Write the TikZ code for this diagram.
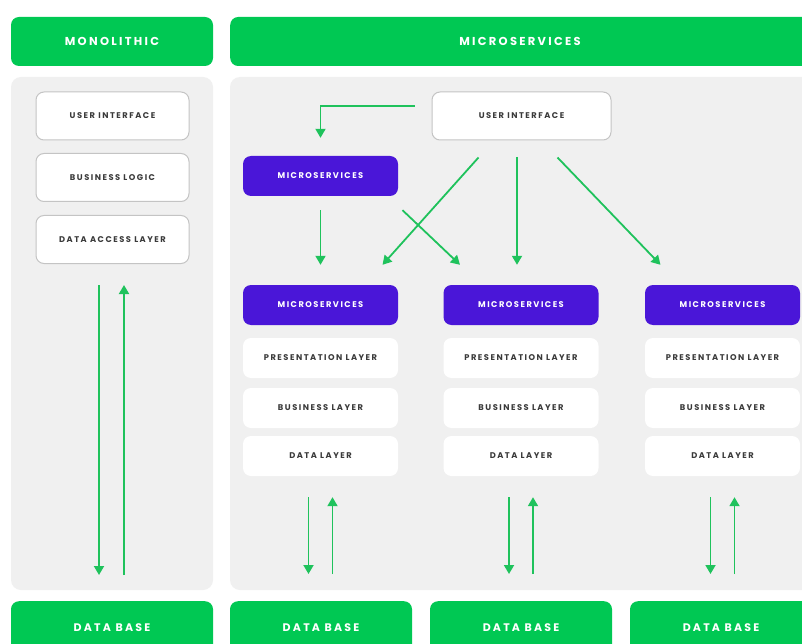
\documentclass[tikz,border=0pt]{standalone}
\usepackage{fontspec}
\setmainfont{Poppins}
\newfontfamily\labfont[LetterSpace=18]{Poppins}
\newfontfamily\hdfont[LetterSpace=20]{Poppins}
\usetikzlibrary{arrows.meta,calc}

\definecolor{hdgreen}{HTML}{00C853}
\definecolor{argreen}{HTML}{1FC25C}
\definecolor{msviolet}{HTML}{4A16D8}
\definecolor{panelgray}{HTML}{F0F0F0}
\definecolor{txtgray}{HTML}{3A3A3A}
\definecolor{bordgray}{HTML}{C4C4C4}

\tikzset{
  hdtext/.style={font=\hdfont\bfseries\fontsize{11.5}{13}\selectfont, text=white},
  header/.style={fill=hdgreen, rounded corners=8pt, inner sep=0pt, hdtext},
  panel/.style={fill=panelgray, rounded corners=10pt},
  labtext/.style={font=\labfont\bfseries\fontsize{8.3}{9}\selectfont},
  framebox/.style={draw=bordgray, line width=1pt, fill=white, rounded corners=8pt,
    minimum width=153pt, minimum height=48pt, text=txtgray, inner sep=0pt, labtext},
  svcbox/.style={fill=msviolet, rounded corners=8pt, text=white,
    minimum width=155pt, minimum height=40pt, inner sep=0pt, labtext},
  layerbox/.style={fill=white, rounded corners=8pt, text=txtgray,
    minimum width=155pt, minimum height=40pt, inner sep=0pt, labtext},
  arr/.style={draw=argreen, line width=1.8pt,
    -{Triangle[width=10pt,length=9pt]}},
}

\begin{document}
\begin{tikzpicture}[x=1pt,y=-1pt]
  \clip (0,0) rectangle (802,644);
  \fill[white] (0,0) rectangle (802,644);

  % column headers
  \node[header, minimum width=202pt, minimum height=49pt] (hmono) at (112,41.5) {MONOLITHIC};
  \node[header, minimum width=600pt, minimum height=49pt, anchor=west] (hmicro) at (230,41.5) {};
  \node[hdtext] at (520,41.5) {MICROSERVICES};

  % grey panels
  \fill[panel] (11,77) rectangle (213,590);
  \fill[panel] (230,77) rectangle (830,590);

  % monolithic stack
  \node[framebox] (mui)  at (112.5,116)   {USER INTERFACE};
  \node[framebox] (mbl)  at (112.5,177.5) {BUSINESS LOGIC};
  \node[framebox] (mdal) at (112.5,239.5) {DATA ACCESS LAYER};

  % microservices: entry points
  \node[framebox, minimum width=179pt] (ui) at (521.5,116) {USER INTERFACE};
  \node[svcbox] (ms0) at (320.5,176) {MICROSERVICES};

  % microservices: three service columns
  \foreach \n/\cx in {1/320.5, 2/521, 3/722.5} {
    \node[svcbox]   (ms\n) at (\cx,305) {MICROSERVICES};
    \node[layerbox] (pl\n) at (\cx,358) {PRESENTATION LAYER};
    \node[layerbox] (bl\n) at (\cx,408) {BUSINESS LAYER};
    \node[layerbox] (dl\n) at (\cx,456) {DATA LAYER};
  }

  % databases
  \node[header, minimum width=202pt, minimum height=60pt, anchor=north] (db0) at (112,601) {};
  \node[header, minimum width=182pt, minimum height=60pt, anchor=north] (db1) at (321,601) {};
  \node[header, minimum width=182pt, minimum height=60pt, anchor=north] (db2) at (521,601) {};
  \node[header, minimum width=182pt, minimum height=60pt, anchor=north] (db3) at (721,601) {};
  \foreach \d in {0,1,2,3}
    \node[hdtext, font=\hdfont\bfseries\fontsize{11}{13}\selectfont] at ($(db\d.north)+(0,27)$) {DATA BASE};

  % monolithic data flow
  \coordinate (m0a) at ($(mdal.south)+(-13.5,21)$);
  \coordinate (m0b) at ($(mdal.south)+(11.5,21)$);
  \draw[arr] (m0a) -- (m0a |- 0,575);
  \draw[arr] (m0b |- 0,575) -- (m0b);

  % request routing
  \coordinate (uiexit) at ($(ui.west)+(-17,-10)$);
  \draw[arr] (uiexit) -| ($(ms0.north)+(0,-18)$);
  \draw[arr] ($(ms0.south)+(0,14)$) -- ($(ms1.north)+(0,-20)$);
  \draw[arr] ($(ms0.south)+(82,14)$) -- ($(ms2.north)+(-61,-20)$);
  \draw[arr] ($(ui.south)+(-43,17)$) -- ($(ms1.north)+(62,-20)$);
  \coordinate (uimid) at ($(ms2.north)+(-4,-128)$);
  \draw[arr] (uimid) -- ($(ms2.north)+(-4,-20)$);
  \draw[arr] ($(ui.south)+(36,17)$) -- ($(ms3.north)+(-62,-20)$);

  % per-service data flow
  \foreach \n in {1,2,3} {
    \coordinate (d\n a) at ($(dl\n.south)+(-12,21)$);
    \coordinate (d\n b) at ($(dl\n.south)+(12,21)$);
    \draw[arr] (d\n a) -- (d\n a |- 0,574);
    \draw[arr] (d\n b |- 0,574) -- (d\n b);
  }
\end{tikzpicture}
\end{document}
